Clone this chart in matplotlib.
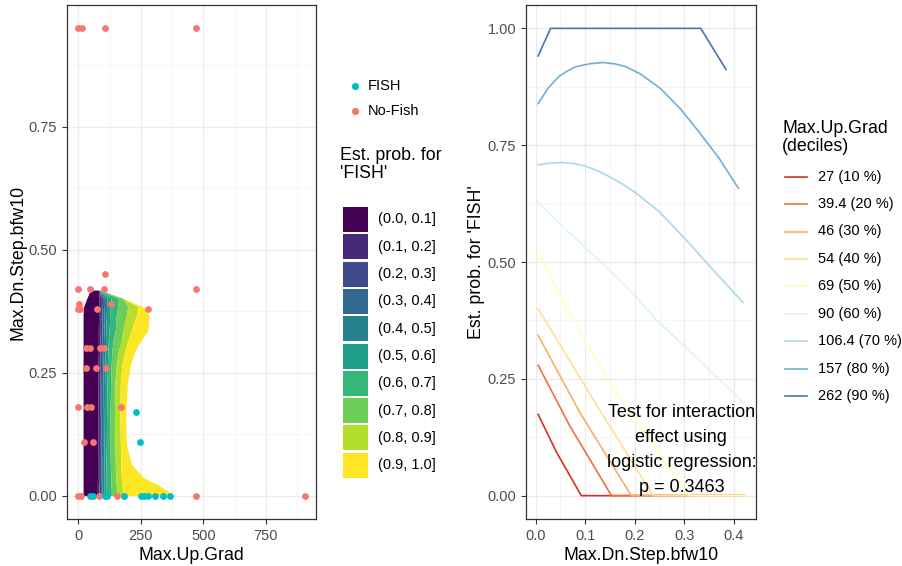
import matplotlib
matplotlib.use("Agg")
import matplotlib.pyplot as plt
from matplotlib.lines import Line2D
from matplotlib.patches import Rectangle
from matplotlib.ticker import MultipleLocator, FormatStrFormatter
import numpy as np

plt.rcParams['font.family'] = ['Liberation Sans', 'DejaVu Sans']

# ---- left panel: observed sites ----
fish_up = [229, 248, 47, 58, 108, 115, 182, 250, 261, 277, 305, 338, 368]
fish_dn = [0.17, 0.11, 0, 0, 0, 0, 0, 0, 0, 0, 0, 0, 0]
nofish_up = [0, 15, 108, 472, 105, 0, 45, 104, 472, 3, 0, 5, 74, 132, 280,
             32, 45, 85, 101, 32, 72, 112, 0, 35, 52, 172, 21, 59,
             0, 12, 83, 155, 472, 905]
nofish_dn = [0.95, 0.95, 0.95, 0.95, 0.45, 0.42, 0.42, 0.42, 0.42, 0.39, 0.38, 0.38, 0.38, 0.39, 0.38,
             0.30, 0.30, 0.30, 0.30, 0.26, 0.26, 0.26, 0.18, 0.18, 0.18, 0.18, 0.11, 0.11,
             0, 0, 0, 0, 0, 0]

# ---- left panel: estimated probability bands (Max.Up.Grad boundaries per Max.Dn.Step level) ----
dn_levels = [0.0, 0.007, 0.02, 0.037, 0.064, 0.105, 0.16, 0.23, 0.266, 0.293, 0.317, 0.337, 0.367, 0.384, 0.401, 0.418]
up_left = [19, 19, 19, 19, 19, 19, 19, 19, 19, 19, 19, 19, 19, 21, 34, 48]
up_right = [370, 365, 325, 259, 212, 192, 189, 196, 208, 225, 252, 279, 283, 259, 179, 85]
band_breaks = [
    [76, 76, 76, 77, 77, 78, 78, 79, 79, 80, 80, 80, 81, 81, 82, 83],
    [83, 83, 83, 84, 84, 85, 85, 86, 86, 87, 87, 88, 88, 89, 89, 90],
    [89, 89, 89, 90, 90, 91, 91, 92, 93, 93, 94, 95, 95, 96, 97, 97],
    [95, 95, 95, 96, 96, 97, 97, 98, 99, 100, 101, 102, 103, 104, 105, 106],
    [102, 102, 102, 102, 102, 103, 104, 105, 106, 108, 109, 110, 112, 113, 115, 116],
    [112, 112, 111, 111, 111, 112, 113, 115, 116, 118, 120, 123, 126, 128, 130, 132],
    [132, 132, 131, 130, 128, 127, 127, 129, 131, 134, 140, 148, 152, 158, 160, 162],
    [155, 154, 152, 150, 148, 146, 145, 146, 152, 160, 172, 179, 192, 198, 200, 202],
    [180, 178, 175, 172, 170, 168, 166, 168, 174, 185, 199, 212, 232, 238, 244, 246],
]
band_labels = ["(0.0, 0.1]", "(0.1, 0.2]", "(0.2, 0.3]", "(0.3, 0.4]", "(0.4, 0.5]",
               "(0.5, 0.6]", "(0.6, 0.7]", "(0.7, 0.8]", "(0.8, 0.9]", "(0.9, 1.0]"]
band_colors = ["#440154", "#482878", "#3E4A89", "#31688E", "#26828E",
               "#1F9E89", "#35B779", "#6DCD59", "#B4DE2C", "#FDE725"]

# ---- right panel: estimated probability per Max.Up.Grad decile ----
decile_labels = ["27 (10 %)", "39.4 (20 %)", "46 (30 %)", "54 (40 %)", "69 (50 %)",
                 "90 (60 %)", "106.4 (70 %)", "157 (80 %)", "262 (90 %)"]
curve_x = [
    [0.005, 0.042, 0.092, 0.42],
    [0.005, 0.069, 0.153, 0.42],
    [0.005, 0.089, 0.193, 0.42],
    [0.005, 0.116, 0.237, 0.42],
    [0.005, 0.030, 0.061, 0.15, 0.31, 0.42],
    [0.003, 0.047, 0.101, 0.155, 0.202, 0.239, 0.33, 0.419],
    [0.005, 0.025, 0.051, 0.075, 0.098, 0.123, 0.148, 0.175, 0.202, 0.249, 0.303, 0.357, 0.418],
    [0.005, 0.025, 0.047, 0.064, 0.081, 0.108, 0.135, 0.160, 0.182, 0.212, 0.251, 0.291, 0.326, 0.370, 0.409],
    [0.005, 0.030, 0.333, 0.384],
]
curve_p = [
    [0.174, 0.093, 0.0, 0.0],
    [0.279, 0.149, 0.0, 0.0],
    [0.343, 0.178, 0.0, 0.0],
    [0.400, 0.206, 0.0, 0.0],
    [0.523, 0.470, 0.406, 0.240, 0.0, 0.0],
    [0.630, 0.584, 0.530, 0.477, 0.427, 0.381, 0.290, 0.199],
    [0.708, 0.711, 0.713, 0.711, 0.706, 0.696, 0.683, 0.667, 0.648, 0.608, 0.548, 0.484, 0.414],
    [0.839, 0.872, 0.897, 0.909, 0.918, 0.924, 0.927, 0.924, 0.918, 0.902, 0.872, 0.829, 0.783, 0.722, 0.658],
    [0.941, 1.0, 1.0, 0.912],
]
decile_colors = ["#D73027", "#F46D43", "#FDAE61", "#FEE090", "#FFFFBF",
                 "#E0F3F8", "#ABD9E9", "#74ADD1", "#4575B4"]

W, H = 902, 566
fig = plt.figure(figsize=(W / 100, H / 100), dpi=100)


def fx(px):
    return px / W


def fy(py):
    return 1 - py / H


def style(ax):
    for s in ax.spines.values():
        s.set_color("#333333")
        s.set_linewidth(0.9)
    ax.grid(which="major", color="#EBEBEB", lw=0.9)
    ax.grid(which="minor", color="#F1F1F1", lw=0.5)
    ax.tick_params(which="major", length=3.5, width=0.8, color="#333333",
                   labelcolor="#4D4D4D", labelsize=10.5)
    ax.tick_params(which="minor", length=0)
    ax.set_axisbelow(True)


# left panel
ax1 = fig.add_axes([fx(67), 47 / H, 249 / W, 514 / H])
style(ax1)
lev = np.array(dn_levels)
lo_edge = np.array(up_left, dtype=float)
hi_edge = np.array(up_right, dtype=float)
bounds = [lo_edge] + [np.array(b, dtype=float) for b in band_breaks] + [hi_edge]
for k, col in enumerate(band_colors):
    a = np.clip(bounds[k], lo_edge, hi_edge)
    b = np.clip(bounds[k + 1], lo_edge, hi_edge)
    ax1.fill_betweenx(lev, a, b, where=b > a, interpolate=True,
                      color=col, lw=0, zorder=2)

ax1.scatter(nofish_up, nofish_dn, s=24, color="#F8766D", lw=0, zorder=3)
ax1.scatter(fish_up, fish_dn, s=24, color="#00BFC4", lw=0, zorder=3)
ax1.set_xlim(-45.25, 950.25)
ax1.set_ylim(-0.0475, 0.9975)
ax1.xaxis.set_major_locator(MultipleLocator(250))
ax1.xaxis.set_minor_locator(MultipleLocator(125))
ax1.yaxis.set_major_locator(MultipleLocator(0.25))
ax1.yaxis.set_minor_locator(MultipleLocator(0.125))
ax1.yaxis.set_major_formatter(FormatStrFormatter("%.2f"))
ax1.set_xlabel("Max.Up.Grad", fontsize=12.8, labelpad=3)
ax1.set_ylabel("Max.Dn.Step.bfw10", fontsize=12.8, labelpad=1.5)

# right panel
ax2 = fig.add_axes([fx(526), 47 / H, 230 / W, 514 / H])
style(ax2)
for xs, ps, col, lab in zip(curve_x, curve_p, decile_colors, decile_labels):
    ax2.plot(xs, ps, color=col, lw=1.2, label=lab, zorder=2)
ax2.set_xlim(-0.0195, 0.4445)
ax2.set_ylim(-0.05, 1.05)
ax2.xaxis.set_major_locator(MultipleLocator(0.1))
ax2.xaxis.set_minor_locator(MultipleLocator(0.05))
ax2.xaxis.set_major_formatter(FormatStrFormatter("%.1f"))
ax2.yaxis.set_major_locator(MultipleLocator(0.25))
ax2.yaxis.set_minor_locator(MultipleLocator(0.125))
ax2.yaxis.set_major_formatter(FormatStrFormatter("%.2f"))
ax2.set_xlabel("Max.Dn.Step.bfw10", fontsize=12.8, labelpad=3)
ax2.set_ylabel("Est. prob. for 'FISH'", fontsize=12.8, labelpad=1.5)
ax2.text(0.294, 0.097, "Test for interaction\neffect using\nlogistic regression:\np = 0.3463",
         ha="center", va="center", fontsize=13, linespacing=1.62, zorder=4)

# legends, laid out by hand in figure pixels
pt_colors = ["#00BFC4", "#F8766D"]
for i, (lab, c) in enumerate(zip(["FISH", "No-Fish"], pt_colors)):
    yc = 86 + 25 * i
    fig.add_artist(Line2D([fx(355)], [fy(yc)], ls="", marker="o", ms=5.2,
                          mew=0, color=c, transform=fig.transFigure))
    fig.text(fx(368), fy(yc), lab, ha="left", va="center", fontsize=10.5)

fig.text(fx(340), fy(147), "Est. prob. for\n'FISH'", ha="left", va="top",
         fontsize=12.8, linespacing=1.1)
for i, (lab, c) in enumerate(zip(band_labels, band_colors)):
    top = 207 + 27.3 * i
    fig.add_artist(Rectangle((fx(343), fy(top + 25)), 25 / W, 25 / H,
                             facecolor=c, edgecolor="none", transform=fig.transFigure))
    fig.text(fx(378), fy(top + 12.5), lab, ha="left", va="center", fontsize=10.5)

fig.text(fx(782), fy(120), "Max.Up.Grad\n(deciles)", ha="left", va="top",
         fontsize=12.8, linespacing=1.1)
for i, (lab, c) in enumerate(zip(decile_labels, decile_colors)):
    yc = 176.7 + 27.4 * i
    fig.add_artist(Line2D([fx(785), fx(807)], [fy(yc), fy(yc)], color=c, lw=1.2,
                          transform=fig.transFigure))
    fig.text(fx(818), fy(yc), lab, ha="left", va="center", fontsize=10.5)

fig.savefig("out.png", dpi=100)
